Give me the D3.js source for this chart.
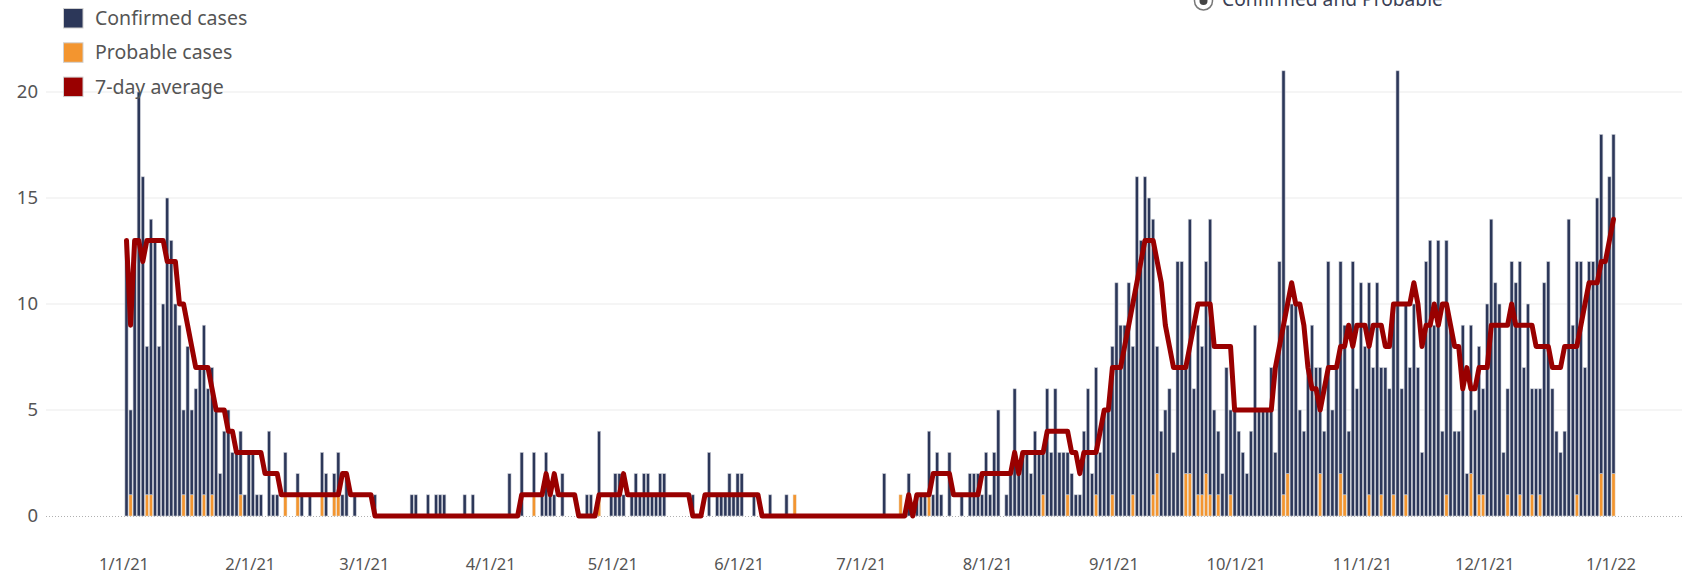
<!DOCTYPE html>
<html><head><meta charset="utf-8">
<script src="https://cdn.jsdelivr.net/npm/d3@7"></script>
<style>html,body{margin:0;padding:0;background:#fff;overflow:hidden}</style>
</head><body><svg id="c" width="1690" height="574"></svg>
<script>
const startDate = "2021-01-01";
const confirmed = [
13,4,13,20,16,7,13,13,8,10,
15,13,10,9,4,8,4,6,7,8,
6,6,5,2,4,5,3,3,3,1,
3,3,1,1,0,4,1,1,0,2,
0,0,1,1,0,1,0,0,2,2,
0,1,2,1,2,0,1,0,0,0,
0,1,0,0,0,0,0,0,0,0,
1,1,0,0,1,0,1,1,1,0,
0,0,0,1,0,1,0,0,0,0,
0,0,0,0,2,0,0,3,0,0,
2,0,1,3,1,1,0,2,0,0,
0,0,0,1,1,0,3,0,0,1,
2,2,1,0,1,2,1,2,2,1,
1,2,2,0,0,0,0,0,0,1,
0,0,0,3,0,1,1,1,2,1,
2,2,0,0,1,0,0,0,1,0,
0,0,1,0,0,0,0,0,0,0,
0,0,0,0,0,0,0,0,0,0,
0,0,0,0,0,0,2,0,0,0,
0,0,2,0,1,1,1,3,1,3,
1,0,3,0,0,1,0,2,2,2,
1,3,1,3,5,0,1,2,6,2,
3,3,2,4,3,2,6,3,6,3,
3,2,2,1,1,4,6,2,6,3,
5,5,7,11,9,9,11,7,16,13,
16,15,13,6,4,5,6,3,12,12,
5,12,6,8,7,10,13,5,3,2,
7,4,5,4,3,2,4,9,5,5,
5,7,3,12,20,7,10,10,5,4,
7,9,7,5,4,12,5,7,10,8,
4,12,6,11,8,10,7,11,6,7,
6,9,21,6,9,7,10,7,3,12,
13,9,13,4,12,9,4,4,9,2,
7,5,7,5,10,14,11,10,3,5,
12,11,11,7,10,5,6,5,11,12,
6,4,3,4,14,9,11,12,7,12,
12,15,16,12,16,16];
const probable = [
0,1,0,0,0,1,1,0,0,0,
0,0,0,0,1,0,1,0,0,1,
0,1,0,0,0,0,0,0,1,0,
0,0,0,0,0,0,0,0,0,1,
0,0,1,0,0,0,0,0,1,0,
0,1,1,0,0,0,0,0,0,0,
0,0,0,0,0,0,0,0,0,0,
0,0,0,0,0,0,0,0,0,0,
0,0,0,0,0,0,0,0,0,0,
0,0,0,0,0,0,0,0,0,0,
1,0,0,0,0,0,0,0,0,0,
0,0,0,0,0,0,1,0,0,0,
0,0,0,0,0,0,0,0,0,0,
0,0,0,0,0,0,0,0,0,0,
0,0,0,0,0,0,0,0,0,0,
0,0,0,0,0,0,0,0,0,0,
0,0,0,0,1,0,0,0,0,0,
0,0,0,0,0,0,0,0,0,0,
0,0,0,0,0,0,0,0,0,0,
1,0,0,0,0,0,0,1,0,0,
0,0,0,0,0,0,0,0,0,0,
0,0,0,0,0,0,0,0,0,0,
0,0,0,0,0,1,0,0,0,0,
0,1,0,0,0,0,0,0,1,0,
0,0,1,0,0,0,0,1,0,0,
0,0,1,2,0,0,0,0,0,0,
2,2,0,1,1,2,1,0,1,0,
0,1,0,0,0,0,0,0,0,0,
0,0,0,0,1,2,0,0,0,0,
0,0,0,2,0,0,0,0,2,1,
0,0,0,0,0,1,0,0,1,0,
0,1,0,0,1,0,0,0,0,0,
0,0,0,0,1,0,0,0,0,0,
2,0,1,1,0,0,0,0,0,1,
0,0,1,0,0,1,0,1,0,0,
0,0,0,0,0,0,1,0,0,0,
0,0,2,0,0,2];
const avg7 = [
13,9,13,13,12,13,13,13,13,13,
12,12,12,10,10,9,8,7,7,7,
7,6,5,5,5,4,4,3,3,3,
3,3,3,3,2,2,2,2,1,1,
1,1,1,1,1,1,1,1,1,1,
1,1,1,2,2,1,1,1,1,1,
1,0,0,0,0,0,0,0,0,0,
0,0,0,0,0,0,0,0,0,0,
0,0,0,0,0,0,0,0,0,0,
0,0,0,0,0,0,0,1,1,1,
1,1,1,2,1,2,1,1,1,1,
1,0,0,0,0,0,1,1,1,1,
1,1,2,1,1,1,1,1,1,1,
1,1,1,1,1,1,1,1,1,0,
0,0,1,1,1,1,1,1,1,1,
1,1,1,1,1,1,0,0,0,0,
0,0,0,0,0,0,0,0,0,0,
0,0,0,0,0,0,0,0,0,0,
0,0,0,0,0,0,0,0,0,0,
0,0,1,0,1,1,1,1,2,2,
2,2,2,1,1,1,1,1,1,1,
2,2,2,2,2,2,2,2,3,2,
3,3,3,3,3,3,4,4,4,4,
4,4,3,3,2,3,3,3,3,4,
5,5,7,7,7,8,9,10,11,12,
13,13,13,12,11,9,8,7,7,7,
7,8,9,10,10,10,10,8,8,8,
8,8,5,5,5,5,5,5,5,5,
5,5,7,8,9,10,11,10,10,9,
7,6,6,5,6,7,7,7,8,8,
9,8,9,9,9,8,9,9,9,8,
8,10,10,10,10,10,11,10,8,9,
9,10,9,10,10,9,8,8,6,7,
6,6,7,7,7,9,9,9,9,9,
10,9,9,9,9,9,8,8,8,8,
7,7,7,8,8,8,8,9,10,11,
11,11,12,12,13,14];
const tickLabels = ["1/1/21","2/1/21","3/1/21","4/1/21","5/1/21","6/1/21","7/1/21","8/1/21","9/1/21","10/1/21","11/1/21","12/1/21","1/1/22"];
const yTicks = [0,5,10,15,20];
const legendLabels = ["Confirmed cases","Probable cases","7-day average"];
const colors = {confirmed:"#2c3759", probable:"#f3952f", avg:"#990000"};

const svg = d3.select("#c");
const parse = d3.timeParse("%Y-%m-%d");
const t0 = parse(startDate);
const dates = confirmed.map((_, i) => d3.timeDay.offset(t0, i));
const x = d3.scaleTime().domain([t0, dates[dates.length - 1]]).range([126.5, 1613.5]);
const y = d3.scaleLinear().domain([0, 20]).range([516, 92]);
const font = "'Noto Sans', 'Open Sans', sans-serif";

// gridlines
const gl = 46, gr = 1682;
svg.append("g").selectAll("line").data(yTicks.filter(v => v > 0)).join("line")
  .attr("x1", gl).attr("x2", gr).attr("y1", d => y(d)).attr("y2", d => y(d))
  .attr("stroke", "#ebebeb").attr("stroke-width", 1);
svg.append("line").attr("x1", gl).attr("x2", gr).attr("y1", y(0) + 0.5).attr("y2", y(0) + 0.5)
  .attr("stroke", "#b0b0b0").attr("stroke-width", 1).attr("stroke-dasharray", "1,2");

// y axis labels
const yAxis = d3.axisLeft(y).tickValues(yTicks).tickSize(0).tickPadding(0).tickFormat(d3.format("d"));
const ya = svg.append("g").attr("transform", "translate(38,0)").call(yAxis);
ya.select(".domain").remove();
ya.selectAll("text").attr("font-family", font).attr("font-size", 18.5).attr("fill", "#555");

// x axis labels
const monthDates = tickLabels.map((_, i) => d3.timeMonth.offset(t0, i));
const xAxis = d3.axisBottom(x).tickValues(monthDates).tickSize(0).tickPadding(0).tickFormat((d, i) => tickLabels[i]);
const xa = svg.append("g").attr("transform", "translate(-3,558)").call(xAxis);
xa.select(".domain").remove();
xa.selectAll("text").attr("font-family", font).attr("font-size", 16.5).attr("fill", "#555");

// bars
const step = x(dates[1]) - x(dates[0]);
const bw = step * 0.78;
const bars = svg.append("g");
bars.selectAll("rect.p").data(dates.map((d, i) => ({d, p: probable[i]})).filter(o => o.p > 0)).join("rect")
  .attr("x", o => x(o.d) - bw / 2).attr("width", bw)
  .attr("y", o => y(o.p)).attr("height", o => y(0) - y(o.p))
  .attr("fill", colors.probable).attr("stroke", "#e6dccf").attr("stroke-width", 0.5);
bars.selectAll("rect.c").data(dates.map((d, i) => ({d, p: probable[i], c: confirmed[i]})).filter(o => o.c > 0)).join("rect")
  .attr("x", o => x(o.d) - bw / 2).attr("width", bw)
  .attr("y", o => y(o.p + o.c)).attr("height", o => y(o.p) - y(o.p + o.c))
  .attr("fill", colors.confirmed).attr("stroke", "#cdd0d8").attr("stroke-width", 0.6);

// 7-day average line
const line = d3.line().x((d, i) => x(dates[i])).y(d => y(d));
svg.append("path").datum(avg7).attr("d", line).attr("fill", "none")
  .attr("stroke", colors.avg).attr("stroke-width", 5).attr("stroke-linejoin", "round").attr("stroke-linecap", "round");

// legend
const lg = svg.append("g");
const lc = [colors.confirmed, colors.probable, colors.avg];
legendLabels.forEach((t, i) => {
  const yy = 8 + i * 34.3;
  lg.append("rect").attr("x", 63.5).attr("y", yy + 0.5).attr("width", 19.5).attr("height", 19.5)
    .attr("fill", lc[i]).attr("stroke", "#d0d0d0").attr("stroke-width", 1);
  lg.append("text").attr("x", 95).attr("y", yy + 17).text(t)
    .attr("font-family", font).attr("font-size", 19.5).attr("fill", "#555");
});

// radio option (cut off at top as in the source view)
svg.append("circle").attr("cx", 1203.5).attr("cy", 1).attr("r", 9).attr("fill", "#fff").attr("stroke", "#777").attr("stroke-width", 1.5);
svg.append("circle").attr("cx", 1203.5).attr("cy", 1).attr("r", 4).attr("fill", "#444");
svg.append("text").attr("x", 1222).attr("y", 6).text("Confirmed and Probable")
  .attr("font-family", font).attr("font-size", 19.2).attr("fill", "#3a3f55");
</script></body></html>
